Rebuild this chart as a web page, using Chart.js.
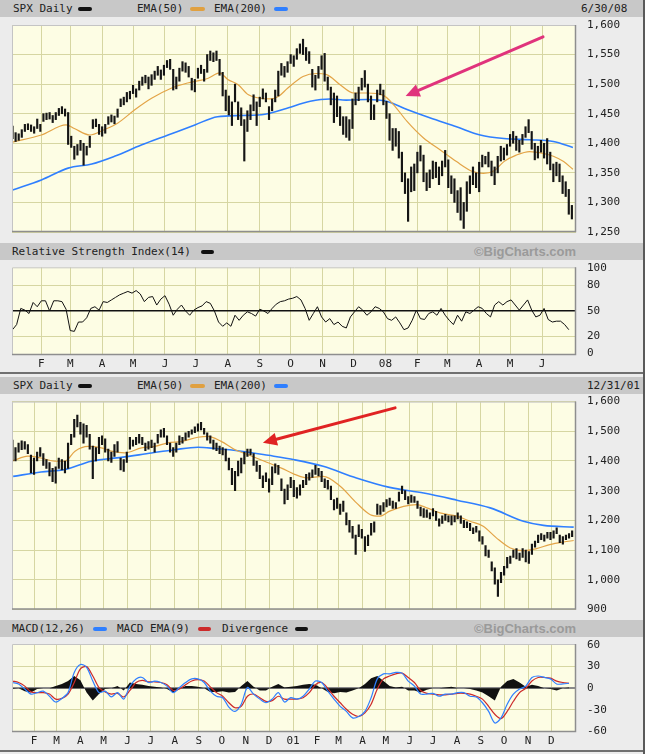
<!DOCTYPE html>
<html><head><meta charset="utf-8">
<script src="https://cdn.jsdelivr.net/npm/chart.js@4.4.1/dist/chart.umd.min.js"></script>
<style>
body{margin:0;background:#fff;}
#root{position:relative;width:643px;height:754px;background:#ececec;overflow:hidden;font-family:"DejaVu Sans Mono",monospace;font-size:11px;color:#222;border-right:2px solid #5a5a5a;}
.hdr{position:absolute;left:0;width:643px;height:17px;background:#c8c8c8;}
.t{position:absolute;white-space:nowrap;line-height:17px;top:0;}
.sw{position:absolute;height:4px;top:7px;border-radius:2px;}
.bc{position:absolute;top:0;right:67px;font-family:"Liberation Sans",Arial,sans-serif;font-weight:bold;font-size:13px;color:#9a9a9a;line-height:17px;}
canvas{position:absolute;left:0;}
.sep{position:absolute;left:0;width:643px;height:2px;background:#707070;}
</style></head><body>
<div id="root">
  <div class="hdr" style="top:0">
    <span class="t" style="left:13px">SPX Daily</span><span class="sw" style="left:78px;width:14px;background:#111"></span>
    <span class="t" style="left:137px">EMA(50)</span><span class="sw" style="left:190px;width:15px;background:#e0a040"></span>
    <span class="t" style="left:214px">EMA(200)</span><span class="sw" style="left:274px;width:14px;background:#2f7fff"></span>
    <span class="t" style="left:581px">6/30/08</span>
  </div>
  <div class="hdr" style="top:243px">
    <span class="t" style="left:12px">Relative Strength Index(14)</span><span class="sw" style="left:201px;width:13px;background:#111"></span>
    <span class="bc">©BigCharts.com</span>
  </div>
  <div class="sep" style="top:372px"></div>
  <div class="hdr" style="top:377px">
    <span class="t" style="left:13px">SPX Daily</span><span class="sw" style="left:78px;width:14px;background:#111"></span>
    <span class="t" style="left:137px">EMA(50)</span><span class="sw" style="left:190px;width:15px;background:#e0a040"></span>
    <span class="t" style="left:214px">EMA(200)</span><span class="sw" style="left:274px;width:14px;background:#2f7fff"></span>
    <span class="t" style="left:587px">12/31/01</span>
  </div>
  <div class="hdr" style="top:620px">
    <span class="t" style="left:12px">MACD(12,26)</span><span class="sw" style="left:93px;width:14px;background:#2f7fff"></span>
    <span class="t" style="left:117px">MACD EMA(9)</span><span class="sw" style="left:198px;width:13px;background:#cc2a2a"></span>
    <span class="t" style="left:222px">Divergence</span><span class="sw" style="left:295px;width:13px;background:#111"></span>
    <span class="bc">©BigCharts.com</span>
  </div>
  <canvas id="c1" width="648" height="224" style="top:17px"></canvas>
  <canvas id="c2" width="648" height="114" style="top:260px"></canvas>
  <canvas id="c3" width="648" height="224" style="top:393px"></canvas>
  <canvas id="c4" width="648" height="117" style="top:636px"></canvas>
  <div class="sep" style="top:750px"></div>
</div>
<script>
// ---------- DATA: panel 1 (SPX daily, Jan 2007 - Jun 2008), x = days since 2007-01-01 ----------
const p1Start = 3, p1Step = 3;
const p1High = [
1429,1418,1416,1423,1432,1433,1431,1428,1441,1432,
1450,1451,1452,1447,1452,1459,1462,1458,1452,1412,
1395,1398,1405,1400,1395,1412,1440,1441,1432,1428,
1432,1445,1448,1446,1458,1475,1478,1486,1488,1498,
1492,1505,1512,1515,1512,1516,1522,1530,1524,1532,
1540,1542,1525,1512,1527,1538,1536,1530,1510,1508,
1527,1532,1525,1550,1556,1553,1556,1542,1520,1490,
1480,1470,1500,1470,1460,1440,1455,1465,1482,1470,
1478,1492,1485,1462,1475,1490,1522,1535,1530,1538,
1550,1548,1560,1568,1576,1562,1555,1525,1515,1530,1548,
1552,1512,1495,1485,1480,1462,1445,1445,1440,1475,
1485,1495,1510,1523,1500,1480,1465,1490,1500,1490,
1471,1450,1425,1425,1420,1385,1350,1340,1360,1365,
1385,1396,1380,1350,1355,1370,1368,1360,1370,1388,
1372,1345,1340,1320,1325,1300,1335,1345,1360,1350,
1368,1380,1378,1385,1370,1360,1378,1395,1392,1398,
1415,1420,1412,1405,1415,1428,1440,1420,1400,1395,
1405,1400,1408,1385,1365,1368,1365,1345,1335,1322,1295];
const p1Low = [
1408,1403,1405,1410,1420,1423,1420,1417,1425,1420,
1437,1440,1441,1435,1440,1447,1450,1446,1398,1393,
1373,1380,1388,1363,1380,1393,1425,1428,1415,1412,
1417,1432,1436,1433,1444,1462,1465,1470,1475,1484,
1478,1490,1498,1502,1492,1498,1508,1515,1508,1515,
1528,1525,1490,1492,1505,1522,1520,1512,1490,1487,
1510,1518,1505,1520,1540,1538,1540,1515,1480,1455,
1448,1430,1470,1440,1430,1370,1420,1440,1455,1430,
1462,1475,1470,1440,1455,1470,1480,1515,1512,1520,
1535,1530,1542,1552,1550,1540,1535,1495,1490,1510,1525,
1505,1490,1465,1435,1445,1430,1415,1410,1405,1425,
1465,1472,1490,1495,1470,1440,1440,1470,1482,1465,
1442,1405,1388,1395,1375,1335,1315,1268,1318,1320,
1350,1370,1335,1320,1325,1340,1342,1330,1345,1360,
1325,1315,1300,1283,1270,1256,1285,1315,1330,1325,
1318,1360,1365,1360,1345,1330,1350,1370,1372,1380,
1395,1400,1388,1385,1398,1410,1418,1390,1372,1375,
1385,1375,1365,1355,1335,1345,1335,1315,1310,1280,1272];
const p1Ema50Days = [3,31,55,63,78,92,105,122,138,157,173,193,204,212,222,232,241,254,261,270,285,298,308,321,334,347,363,373,386,402,418,434,450,460,470,480,492,505,518,528,538,547];
const p1Ema50 = [1402,1414,1431,1425,1414,1423,1434,1457,1476,1493,1502,1510,1519,1508,1499,1482,1477,1475,1479,1493,1513,1518,1516,1499,1485,1485,1481,1465,1437,1409,1389,1369,1352,1349,1353,1369,1380,1386,1383,1378,1369,1356];
const p1Ema200Days = [3,31,57,80,102,128,154,180,202,225,248,267,292,311,327,347,366,386,408,434,457,480,505,528,547];
const p1Ema200 = [1321,1338,1358,1365,1378,1397,1414,1431,1445,1447,1449,1458,1471,1475,1473,1474,1471,1457,1443,1428,1414,1408,1406,1403,1393];
const p1MonthDays = [31,59,90,120,151,181,212,243,273,304,334,365,396,425,456,486,517];
const p1MonthLabels = ['F','M','A','M','J','J','A','S','O','N','D','08','F','M','A','M','J'];
const p1PriceTicks = [1250,1300,1350,1400,1450,1500,1550,1600];

// RSI(14), 2007-2008
const rsiStart = 3, rsiStep = 4;
const rsiValues = [28,34,53,51,47,60,55,62,62,50,
 62,62,61,52,27,26,37,37,42,53,
 55,51,61,60,63,66,69,71,73,71,
 74,70,61,66,67,57,64,68,58,45,
 52,57,50,45,51,54,56,61,59,50,
 37,32,36,32,45,39,45,49,47,44,
 52,50,47,53,58,61,62,64,65,67,
 63,53,39,47,55,43,37,41,34,37,
 32,30,43,49,55,51,45,49,55,53,
 49,41,39,43,36,28,30,39,51,41,
 40,47,49,45,53,45,39,34,45,38,
 49,47,51,55,53,47,43,57,61,57,
 61,63,57,51,57,63,51,43,45,53,
 40,37,38,38,34,28];
const rsiTicks = [0,20,50,80,100];

// ---------- DATA: panel 3 (SPX daily, Jan 2000 - Dec 2001), x = days since 2000-01-01 ----------
const p3Start = 3, p3Step = 4;
const p3High = [
1470,1445,1460,1468,1465,1455,1420,1410,1430,1445,
1425,1405,1395,1375,1380,1410,1405,1400,1460,1490,
1540,1555,1530,1525,1520,1490,1450,1445,1480,1485,
1475,1440,1430,1455,1465,1410,1405,1430,1480,1470,
1480,1490,1480,1460,1465,1470,1460,1490,1505,1510,
1485,1460,1445,1460,1485,1480,1495,1500,1505,1515,
1525,1530,1510,1495,1485,1470,1460,1450,1445,1440,
1410,1375,1365,1400,1410,1430,1440,1440,1425,1400,
1385,1350,1360,1340,1380,1390,1385,1340,1305,1320,
1345,1335,1310,1320,1335,1355,1360,1370,1385,1375,
1365,1340,1335,1315,1270,1275,1255,1265,1225,1200,
1180,1150,1185,1170,1145,1150,1190,1195,1255,1250,
1260,1270,1275,1265,1260,1295,1315,1300,1280,1285,
1280,1265,1245,1240,1235,1225,1240,1230,1205,1215,
1220,1215,1215,1215,1225,1215,1200,1195,1190,1175,
1180,1165,1145,1115,1100,1060,1040,1000,1025,1045,
1075,1080,1100,1105,1090,1105,1100,1095,1120,1130,
1150,1155,1150,1160,1160,1165,1175,1150,1145,1150,
1155,1165];
const p3Low = [
1400,1400,1430,1438,1440,1425,1360,1355,1400,1415,
1385,1375,1350,1330,1325,1375,1370,1360,1375,1455,
1480,1515,1490,1460,1480,1440,1340,1400,1425,1455,
1430,1400,1395,1415,1430,1370,1365,1395,1440,1450,
1455,1460,1455,1435,1440,1445,1430,1460,1480,1480,
1455,1430,1415,1430,1455,1460,1470,1480,1490,1495,
1500,1505,1490,1470,1460,1440,1435,1425,1420,1400,
1370,1320,1300,1350,1360,1390,1415,1420,1385,1365,
1340,1310,1330,1295,1320,1360,1355,1300,1255,1270,
1310,1280,1275,1285,1310,1320,1335,1345,1355,1350,
1330,1310,1305,1270,1235,1240,1220,1230,1185,1160,
1140,1085,1145,1140,1095,1115,1150,1160,1220,1220,
1230,1245,1250,1240,1240,1265,1290,1270,1255,1260,
1260,1240,1215,1210,1210,1205,1215,1200,1180,1190,
1200,1195,1185,1195,1205,1190,1175,1175,1165,1155,
1160,1130,1120,1080,1075,1030,985,944,990,1015,
1040,1055,1075,1070,1065,1075,1060,1055,1085,1110,
1125,1135,1130,1140,1135,1140,1155,1125,1120,1135,
1140,1145];
const p3Ema50Days = [4,23,40,58,71,84,101,118,131,148,170,187,204,222,243,256,273,291,308,329,351,368,384,405,427,448,466,478,491,509,526,539,556,578,595,612,629,647,664,681,698,716,729];
const p3Ema50 = [1401,1416,1410,1399,1399,1433,1449,1444,1433,1427,1444,1449,1461,1466,1480,1483,1466,1438,1421,1399,1376,1355,1343,1348,1315,1259,1219,1214,1231,1247,1253,1242,1225,1214,1197,1180,1141,1107,1098,1105,1118,1127,1132];
const p3Ema200Days = [4,40,71,105,144,183,213,243,265,299,334,368,405,448,491,535,578,621,664,690,729];
const p3Ema200 = [1348,1363,1371,1399,1412,1427,1438,1446,1442,1433,1419,1404,1382,1343,1311,1292,1268,1242,1197,1183,1177];
const p3MonthDays = [31,60,91,121,152,182,213,244,274,305,335,366,397,425,456,486,517,547,578,609,639,670,700];
const p3MonthLabels = ['F','M','A','M','J','J','A','S','O','N','D','01','F','M','A','M','J','J','A','S','O','N','D'];
const p3PriceTicks = [900,1000,1100,1200,1300,1400,1500,1600];

// MACD(12,26), EMA(9), divergence, 2000-2001
const macdStart = 3, macdStep = 8;
const macdLine = [8,6,-1,-8,-6,-4,-11,-19,-14,-6,
 22,33,29,10,-6,-4,-12,-6,-15,3,
 13,15,8,10,8,3,-6,1,8,13,
 13,8,-4,-11,-13,-26,-32,-22,1,-8,
 -15,-20,-15,-6,-19,-13,-15,-11,-1,10,
 8,-4,-15,-25,-32,-41,-39,-32,-13,13,
 20,20,22,21,10,3,-8,-8,-7,-11,
 -8,-8,-6,-6,-11,-12,-20,-32,-48,-41,
 -22,-8,-1,3,15,17,15,13,6,6,
 7];
const macdSignal = [10,8,3,-5,-6,-6,-8,-15,-14,-8,
 8,27,30,17,1,-5,-8,-7,-12,-3,
 8,11,9,9,8,5,-3,-1,5,10,
 12,10,2,-6,-11,-20,-27,-25,-11,-8,
 -13,-18,-17,-11,-15,-15,-15,-13,-6,5,
 8,0,-11,-20,-29,-36,-39,-34,-22,-1,
 13,17,20,21,15,8,-3,-7,-8,-9,
 -9,-8,-7,-7,-8,-11,-15,-25,-36,-42,
 -32,-18,-6,0,10,15,15,14,10,8,
 7];
const macdDivergence = [-1,0,-4,-6,-1,0,0,3,6,10,
 17,11,-6,-17,-8,-1,0,3,-3,8,
 6,5,3,2,1,-1,-6,-1,3,3,
 2,0,-5,-5,-4,-6,-5,3,10,2,
 -3,-3,2,6,1,2,3,5,6,5,
 0,-5,-7,-5,-6,-3,0,6,14,17,
 10,3,1,2,-3,-3,-6,-2,0,0,
 1,2,0,0,-1,-3,-6,-11,-17,2,
 10,13,8,2,5,3,0,-1,-3,0,
 1];
const macdTicks = [-60,-30,0,30,60];

// ---------- rendering ----------
const FONT = {family:'"DejaVu Sans Mono", monospace', size:11};
const GRID = '#d6d6a2';
const PLOT_BG = '#fdfde4';
Chart.defaults.animation = false;
Chart.defaults.font = FONT;
Chart.defaults.color = '#222';

const framePlugin = {
  id:'frame',
  beforeDraw(c){const a=c.chartArea,x=c.ctx;x.save();x.fillStyle=PLOT_BG;x.fillRect(a.left,a.top,a.right-a.left,a.bottom-a.top);x.restore();},
  afterDraw(c){const a=c.chartArea,x=c.ctx;x.save();
    x.lineWidth=1;x.strokeStyle='#c4c4c4';x.beginPath();x.moveTo(a.left+0.5,a.bottom);x.lineTo(a.left+0.5,a.top+0.5);x.lineTo(a.right,a.top+0.5);x.stroke();
    x.strokeStyle='#8e8e8e';x.lineWidth=1.5;x.beginPath();x.moveTo(a.left,a.bottom-0.5);x.lineTo(a.right-0.5,a.bottom-0.5);x.lineTo(a.right-0.5,a.top);x.stroke();
    x.restore();}
};
const arrowPlugin = {
  id:'arrow',
  afterDatasetsDraw(chart, args, o){
    if(!o || o.x1 === undefined) return;
    const sx=chart.scales.x, sy=chart.scales.y, ctx=chart.ctx;
    const x1=sx.getPixelForValue(o.x1), y1=sy.getPixelForValue(o.y1), x2=sx.getPixelForValue(o.x2), y2=sy.getPixelForValue(o.y2);
    const ang=Math.atan2(y2-y1,x2-x1), hl=o.headLength, hw=o.headWidth;
    const bx=x2-hl*Math.cos(ang), by=y2-hl*Math.sin(ang);
    ctx.save();ctx.strokeStyle=o.color;ctx.fillStyle=o.color;ctx.lineWidth=o.width;ctx.lineCap='round';
    ctx.beginPath();ctx.moveTo(x1,y1);ctx.lineTo(bx,by);ctx.stroke();
    ctx.beginPath();ctx.moveTo(x2,y2);ctx.lineTo(bx+hw*Math.sin(ang),by-hw*Math.cos(ang));ctx.lineTo(bx-hw*Math.sin(ang),by+hw*Math.cos(ang));ctx.closePath();ctx.fill();
    ctx.restore();
  }
};

function xAxis(min, max, monthDays, labels, showLabels, height){
  return {type:'linear', min, max, offset:false,
    grid:{color:GRID, lineWidth:1, drawTicks:false, offset:false},
    border:{display:false},
    ticks:{display:showLabels, autoSkip:false, maxRotation:0, padding:3, font:FONT, color:'#222',
      callback:(v,i)=>labels[i]},
    afterBuildTicks:(s)=>{s.ticks = monthDays.map(v=>({value:v}));},
    afterFit:(s)=>{s.height = height;}
  };
}
function yAxis(min, max, ticks, fmt, gridColorFn, gridWidthFn){
  return {type:'linear', position:'right', min, max,
    grid:{color:gridColorFn, lineWidth:gridWidthFn, drawTicks:true, tickLength:11, tickColor:'rgba(0,0,0,0)'},
    border:{display:false},
    ticks:{padding:0, font:FONT, color:'#222', callback:fmt},
    afterBuildTicks:(s)=>{s.ticks = ticks.map(v=>({value:v}));},
    afterFit:(s)=>{s.width = 72;}
  };
}
const seq = (start, step, n) => Array.from({length:n}, (_, i) => start + step*i);
const pts = (xs, ys) => ys.map((y,i)=>({x:xs[i], y}));
const fmtPrice = v => Number(v).toLocaleString('en-US');

function priceChart(id, xs, hi, lo, e50d, e50, e200d, e200, xmin, xmax, monthDays, labels, ticks, ymin, ymax, pad, arrow){
  return new Chart(document.getElementById(id), {
    type:'bar',
    data:{datasets:[
      {type:'bar', data: xs.map((x,i)=>({x, y:[lo[i], hi[i]]})), backgroundColor:'#151515', borderWidth:0, barThickness:1.5, order:1},
      {type:'line', data: pts(e50d, e50), borderColor:'#e3a447', borderWidth:1.2, pointRadius:0, cubicInterpolationMode:'monotone', order:2},
      {type:'line', data: pts(e200d, e200), borderColor:'#2f7fff', borderWidth:1.6, pointRadius:0, cubicInterpolationMode:'monotone', order:3}
    ]},
    options:{responsive:false, animation:false, events:[],
      layout:{padding:pad},
      plugins:{legend:{display:false}, tooltip:{enabled:false}, arrow},
      scales:{x: xAxis(xmin, xmax, monthDays, labels, false, 0),
              y: yAxis(ymin, ymax, ticks, fmtPrice, ()=>GRID, ()=>1)}
    },
    plugins:[framePlugin, arrowPlugin]
  });
}

priceChart('c1', seq(p1Start, p1Step, p1High.length), p1High, p1Low, p1Ema50Days, p1Ema50, p1Ema200Days, p1Ema200,
  2.5, 550, p1MonthDays, p1MonthLabels, p1PriceTicks, 1250, 1600, {left:12, top:8, bottom:9, right:0},
  {x1:518, y1:1580, x2:384.6, y2:1480, color:'#e0337c', width:3, headLength:14, headWidth:6.5});

priceChart('c3', seq(p3Start, p3Step, p3High.length), p3High, p3Low, p3Ema50Days, p3Ema50, p3Ema200Days, p3Ema200,
  2.5, 732, p3MonthDays, p3MonthLabels, p3PriceTicks, 900, 1600, {left:12, top:8.6, bottom:7.6, right:0},
  {x1:498, y1:1579, x2:327, y2:1461, color:'#e02323', width:3, headLength:14, headWidth:6.5});

// RSI
new Chart(document.getElementById('c2'), {
  type:'line',
  data:{datasets:[{data: pts(seq(rsiStart, rsiStep, rsiValues.length), rsiValues), borderColor:'#111', borderWidth:1, pointRadius:0, tension:0}]},
  options:{responsive:false, animation:false, events:[],
    layout:{padding:{left:12, top:7.3, bottom:0, right:0}},
    plugins:{legend:{display:false}, tooltip:{enabled:false}},
    scales:{x: xAxis(2.5, 550, p1MonthDays, p1MonthLabels, true, 19),
            y: yAxis(-1.8, 101.4, rsiTicks, v=>String(v),
               c=>{const v=c.tick&&c.tick.value; return v===50?'#111':(v===0||v===100?'rgba(0,0,0,0)':GRID);},
               c=>{const v=c.tick&&c.tick.value; return v===50?1.6:1;})}
  },
  plugins:[framePlugin]
});

// MACD
const macdX = seq(macdStart, macdStep, macdLine.length);
new Chart(document.getElementById('c4'), {
  type:'line',
  data:{datasets:[
    {data: pts(macdX, macdLine), borderColor:'#2f7fff', borderWidth:1.2, pointRadius:0, tension:0.3, order:1},
    {data: pts(macdX, macdSignal), borderColor:'#cc2a2a', borderWidth:1.2, pointRadius:0, tension:0.3, order:2},
    {data: pts(macdX, macdDivergence), borderColor:'rgba(0,0,0,0)', borderWidth:0, backgroundColor:'#111', fill:'origin', pointRadius:0, tension:0, order:3}
  ]},
  options:{responsive:false, animation:false, events:[],
    layout:{padding:{left:12, top:8, bottom:0, right:0}},
    plugins:{legend:{display:false}, tooltip:{enabled:false}},
    scales:{x: xAxis(2.5, 732, p3MonthDays, p3MonthLabels, true, 21),
            y: yAxis(-60.5, 61.3, macdTicks, v=>String(v),
               c=>{const v=c.tick&&c.tick.value; return v===0?'#8a8a8a':(Math.abs(v)===60?'rgba(0,0,0,0)':GRID);},
               c=>{const v=c.tick&&c.tick.value; return v===0?2:1;})}
  },
  plugins:[framePlugin]
});
</script>
</body></html>
